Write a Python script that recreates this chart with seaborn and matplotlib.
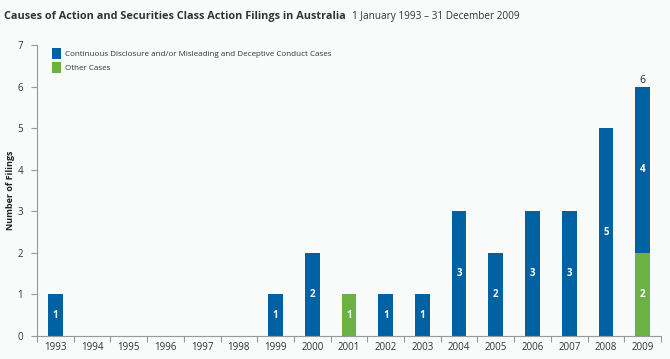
import matplotlib
matplotlib.use("Agg")
import matplotlib.pyplot as plt
import seaborn as sns
import numpy as np
import pandas as pd
from matplotlib.patches import Patch

years = [str(y) for y in range(1993, 2010)]
continuous = [1, 0, 0, 0, 0, 0, 1, 2, 0, 1, 1, 3, 2, 3, 3, 5, 4]
other = [0, 0, 0, 0, 0, 0, 0, 0, 1, 0, 0, 0, 0, 0, 0, 0, 2]
series_names = ["Continuous Disclosure and/or Misleading and Deceptive Conduct Cases", "Other Cases"]

BLUE = "#0062a3"
GREEN = "#6bb143"
BG = "#f8fbfa"

sns.set_theme(style="white")
plt.rcParams['font.family'] = ['Open Sans', 'DejaVu Sans']

fig = plt.figure(figsize=(6.7, 3.59), dpi=100, facecolor=BG)
ax = fig.add_axes([0.0552, 0.064, 0.9314, 0.8107])
ax.set_facecolor(BG)

df = pd.DataFrame({"year": years, "continuous": continuous, "other": other})

sns.barplot(data=df, x="year", y="other", color=GREEN, width=0.4, ax=ax,
            saturation=1, linewidth=0)
sns.barplot(data=df, x="year", y="continuous", color=BLUE, width=0.4, ax=ax,
            saturation=1, linewidth=0, bottom=np.array(other))

for i, (c, o) in enumerate(zip(continuous, other)):
    if o > 0:
        ax.text(i, o / 2, str(o), ha="center", va="center", color="white",
                fontsize=7, fontweight="bold")
    if c > 0:
        ax.text(i, o + c / 2, str(c), ha="center", va="center", color="white",
                fontsize=7, fontweight="bold")
    if o > 0 and c > 0:
        ax.text(i, o + c + 0.02, str(o + c), ha="center", va="bottom",
                color="#222222", fontsize=7.5)

ax.set_ylim(0, 7)
ax.set_xlim(-0.5, len(years) - 0.5)
ax.set_yticks(range(0, 8))
ax.set_yticklabels([str(v) for v in range(0, 8)], fontsize=7, color="#333333")
ax.set_xticks(range(len(years)))
ax.set_xticklabels(years, fontsize=7, color="#333333")
ax.set_xticks(np.arange(-0.5, len(years), 1.0), minor=True)
ax.tick_params(axis="x", which="major", length=0, pad=4)
ax.tick_params(axis="x", which="minor", length=4, width=0.8, color="#999999", direction="out", bottom=True)
ax.tick_params(axis="y", which="major", length=4, width=0.8, color="#999999", direction="out", left=True, pad=6)

ax.set_xlabel("")
ax.set_ylabel("Number of Filings", fontsize=6.5, fontweight="bold", color="#222222")
ax.yaxis.set_label_coords(-0.035, 0.5)

for s in ["top", "right"]:
    ax.spines[s].set_visible(False)
for s in ["left", "bottom"]:
    ax.spines[s].set_color("#999999")
    ax.spines[s].set_linewidth(0.8)

handles = [Patch(facecolor=BLUE, edgecolor="none"), Patch(facecolor=GREEN, edgecolor="none")]
leg = ax.legend(handles, series_names, loc="upper left", bbox_to_anchor=(0.012, 1.015),
                frameon=False, fontsize=5.8, handlelength=1.1, handleheight=1.7,
                handletextpad=0.55, labelspacing=0.4)
for t in leg.get_texts():
    t.set_color("#333333")

title = fig.text(0.006, 0.955, "Causes of Action and Securities Class Action Filings in Australia",
                 fontsize=7.8, fontweight="bold", color="#333333", ha="left", va="center")
fig.canvas.draw()
bb = title.get_window_extent(renderer=fig.canvas.get_renderer())
x_end = bb.x1 / fig.bbox.width
fig.text(x_end + 0.01, 0.955, "1 January 1993 \u2013 31 December 2009",
         fontsize=7.2, color="#333333", ha="left", va="center")

fig.savefig("out.png", dpi=100, facecolor=BG)
